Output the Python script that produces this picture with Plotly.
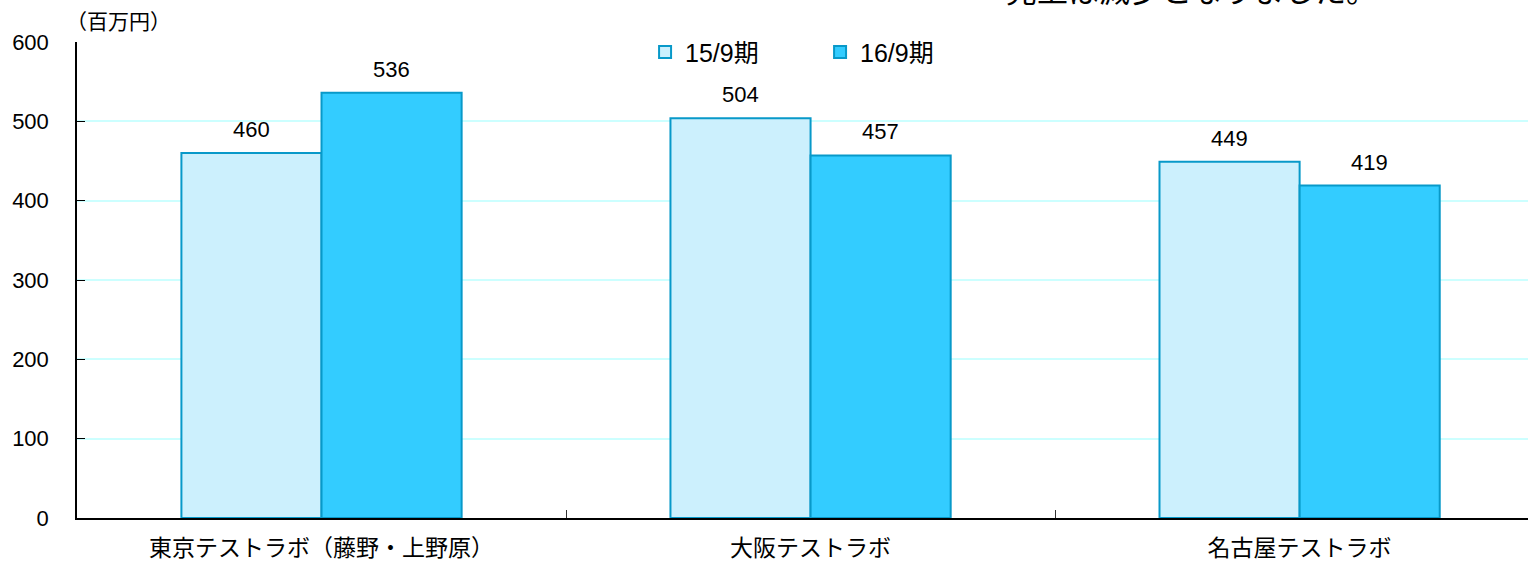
import plotly.graph_objects as go

categories = ["東京テストラボ（藤野・上野原）", "大阪テストラボ", "名古屋テストラボ"]
series_names = ["15/9期", "16/9期"]
values_15 = [460, 504, 449]
values_16 = [536, 457, 419]
y_ticks = [0, 100, 200, 300, 400, 500, 600]

CJK = "Noto Sans CJK JP"
NUM = "Liberation Sans, Arial"

fig = go.Figure()
fig.add_trace(go.Bar(
    name=series_names[0], x=categories, y=values_15,
    marker=dict(color="#ccf0fd", line=dict(color="#0899c9", width=2)),
))
fig.add_trace(go.Bar(
    name=series_names[1], x=categories, y=values_16,
    marker=dict(color="#33ccff", line=dict(color="#0899c9", width=2)),
))

for vals, shift in ((values_15, -70), (values_16, 70)):
    for c, v in zip(categories, vals):
        fig.add_annotation(x=c, y=v, text=str(v), showarrow=False,
                           xshift=shift, yshift=9, yanchor="bottom",
                           font=dict(family=NUM, size=22, color="#000"))

fig.add_annotation(xref="paper", yref="paper", x=-0.009, y=1.0, yshift=5,
                   xanchor="left", yanchor="bottom", text="（百万円）",
                   showarrow=False, font=dict(family=CJK, size=21, color="#000"))
fig.add_annotation(xref="paper", yref="paper", x=0.639, y=1.0, yshift=29,
                   xanchor="left", yanchor="bottom", text="売上は減少となりました。",
                   showarrow=False, font=dict(family=CJK, size=31, color="#000"))

fig.update_layout(
    width=1528, height=565,
    margin=dict(l=77, r=0, t=42, b=47, autoexpand=False),
    paper_bgcolor="white", plot_bgcolor="white",
    barmode="group", bargap=0.427, bargroupgap=0,
    showlegend=True,
    legend=dict(orientation="h", x=0.3915, y=1.027, xanchor="left", yanchor="top",
                font=dict(family=NUM + ", " + CJK, size=25, color="#000"),
                bgcolor="rgba(0,0,0,0)", itemwidth=30, tracegroupgap=0,
                entrywidthmode="pixels", entrywidth=130),
    xaxis=dict(
        type="category", range=[-0.5, 2.467],
        showline=True, linecolor="#000", linewidth=1.5,
        ticks="inside", tickson="boundaries", ticklen=8, tickcolor="#333",
        ticklabelstandoff=9,
        tickfont=dict(family=CJK, size=23, color="#000"),
        showgrid=False,
    ),
    yaxis=dict(
        range=[0, 600], tickvals=y_ticks,
        showline=True, linecolor="#000", linewidth=1.5,
        ticks="inside", ticklen=8, tickcolor="#000",
        ticklabelstandoff=22,
        tickfont=dict(family=NUM, size=22, color="#000"),
        showgrid=True, gridcolor="#ccffff", gridwidth=1.5,
        zeroline=False,
    ),
)

fig.write_html("out.html", config={"displayModeBar": False},
               post_script="document.body.style.margin='0';document.body.style.overflow='hidden';")
